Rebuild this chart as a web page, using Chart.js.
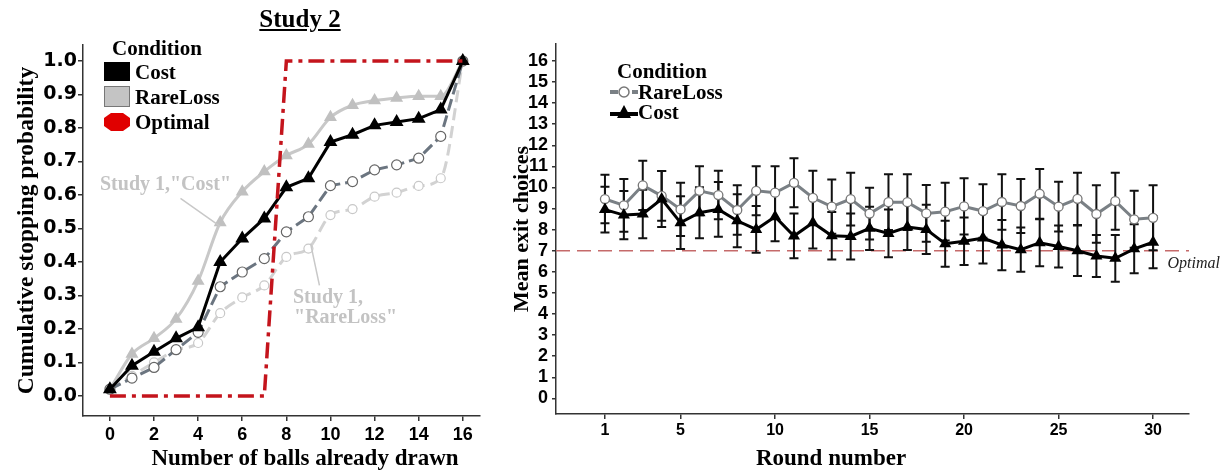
<!DOCTYPE html>
<html>
<head>
<meta charset="utf-8">
<script src="https://cdn.jsdelivr.net/npm/chart.js@4.4.1/dist/chart.umd.min.js"></script>
<style>
  body { margin: 0; background: #fff; }
  #wrap { position: relative; width: 1221px; height: 470px; overflow: hidden;
          font-family: "Liberation Serif", "Times New Roman", serif; }
  canvas { position: absolute; top: 0; }
  .t { position: absolute; font-weight: bold; white-space: nowrap; color: #000; line-height: 24px; }
  .g { position: absolute; }
</style>
</head>
<body>
<div id="wrap">
  <canvas id="left" width="490" height="470" style="left:0"></canvas>
  <canvas id="right" width="731" height="470" style="left:490px"></canvas>

  <div class="t" style="left:200px;top:7px;width:200px;text-align:center;font-size:25px;text-decoration:underline;">Study 2</div>

  <!-- left legend -->
  <div class="t" style="left:112px;top:36px;font-size:21px;">Condition</div>
  <div class="g" style="left:104px;top:62px;width:26px;height:19px;background:#000;"></div>
  <div class="t" style="left:135px;top:60px;font-size:21px;">Cost</div>
  <div class="g" style="left:104px;top:86px;width:24px;height:19px;background:#c4c4c4;border:1px solid #777;"></div>
  <div class="t" style="left:135px;top:85px;font-size:21px;">RareLoss</div>
  <svg class="g" style="left:103px;top:112px" width="28" height="20">
    <polygon points="8,1 20,1 27,6 27,14 20,19 8,19 1,14 1,6" fill="#e00000"/>
  </svg>
  <div class="t" style="left:135px;top:110px;font-size:21px;">Optimal</div>

  <!-- right legend -->
  <div class="t" style="left:617px;top:59px;font-size:21px;">Condition</div>
  <svg class="g" style="left:609px;top:84px" width="30" height="16">
    <line x1="1" y1="8" x2="29" y2="8" stroke="#7a8085" stroke-width="4" stroke-dasharray="8,3"/>
    <circle cx="15" cy="8" r="5" fill="#fff" stroke="#777" stroke-width="1.5"/>
  </svg>
  <div class="t" style="left:638px;top:80px;font-size:21px;">RareLoss</div>
  <svg class="g" style="left:609px;top:103px" width="30" height="18">
    <line x1="1" y1="11" x2="29" y2="11" stroke="#000" stroke-width="4"/>
    <polygon points="15,2 22,15 8,15" fill="#000"/>
  </svg>
  <div class="t" style="left:638px;top:100px;font-size:21px;">Cost</div>

  <!-- x axis titles -->
  <div class="t" style="left:105px;top:446px;width:400px;text-align:center;font-size:23px;">Number of balls already drawn</div>
  <div class="t" style="left:731px;top:446px;width:200px;text-align:center;font-size:23px;">Round number</div>
</div>

<script>
// ---- left panel: cumulative stopping probability ----
const ballsDrawn = [0, 1, 2, 3, 4, 5, 6, 7, 8, 9, 10, 11, 12, 13, 14, 15, 16];
const costStop = [0.02, 0.09, 0.132, 0.172, 0.205, 0.40, 0.47, 0.53, 0.623, 0.65, 0.758, 0.78, 0.808, 0.818, 0.828, 0.855, 1.0];
const rareLossStop = [0.02, 0.053, 0.085, 0.138, 0.19, 0.326, 0.37, 0.41, 0.49, 0.535, 0.628, 0.64, 0.675, 0.69, 0.71, 0.775, 1.0];
const study1CostStop = [0.02, 0.125, 0.172, 0.23, 0.343, 0.518, 0.61, 0.67, 0.718, 0.752, 0.832, 0.868, 0.882, 0.89, 0.895, 0.895, 1.0];
const study1RareLossStop = [0.02, 0.06, 0.1, 0.137, 0.158, 0.247, 0.294, 0.33, 0.415, 0.44, 0.54, 0.558, 0.595, 0.607, 0.627, 0.65, 1.0];
const optimalStop = [0, 0, 0, 0, 0, 0, 0, 0, 1, 1, 1, 1, 1, 1, 1, 1, 1];
const leftXTicks = [0, 2, 4, 6, 8, 10, 12, 14, 16];
const leftYTicks = [0, 0.1, 0.2, 0.3, 0.4, 0.5, 0.6, 0.7, 0.8, 0.9, 1.0];

// ---- right panel: mean exit choices per round ----
const rounds = [1, 2, 3, 4, 5, 6, 7, 8, 9, 10, 11, 12, 13, 14, 15, 16, 17, 18, 19, 20, 21, 22, 23, 24, 25, 26, 27, 28, 29, 30];
const rareLossMean = [9.45, 9.15, 10.1, 9.6, 8.96, 9.84, 9.64, 8.93, 9.84, 9.75, 10.22, 9.51, 9.09, 9.45, 8.76, 9.3, 9.3, 8.77, 8.85, 9.1, 8.88, 9.31, 9.12, 9.7, 9.09, 9.46, 8.74, 9.35, 8.49, 8.56];
const rareLossErr = [1.15, 1.25, 1.17, 1.18, 1.26, 1.16, 1.15, 1.17, 1.16, 1.25, 1.16, 1.28, 1.29, 1.25, 1.23, 1.32, 1.32, 1.34, 1.37, 1.33, 1.27, 1.31, 1.28, 1.18, 1.18, 1.24, 1.36, 1.35, 1.35, 1.54];
const costMean = [8.95, 8.69, 8.74, 9.45, 8.33, 8.8, 8.96, 8.42, 8.01, 8.61, 7.7, 8.33, 7.71, 7.68, 8.06, 7.82, 8.12, 8.01, 7.33, 7.45, 7.6, 7.27, 7.05, 7.38, 7.2, 7.0, 6.75, 6.64, 7.09, 7.4];
const costErr = [1.08, 1.14, 1.15, 1.33, 1.25, 1.21, 1.3, 1.26, 1.11, 1.16, 1.06, 1.22, 1.12, 1.09, 1.03, 1.13, 1.09, 1.17, 1.09, 1.13, 1.2, 1.19, 1.05, 1.11, 1.0, 1.2, 1.0, 1.11, 1.16, 1.23];
const optimalExit = 7;
const rightXTicks = [1, 5, 10, 15, 20, 25, 30];
const rightYTicks = [0, 1, 2, 3, 4, 5, 6, 7, 8, 9, 10, 11, 12, 13, 14, 15, 16];

const SERIF = '"Liberation Serif", "Times New Roman", serif';
const SANS = '"Liberation Sans", Arial, sans-serif';
const AXIS = '#333';

function pts(xs, ys) {
    return xs.map((x, i) => ({ x: x, y: ys[i] }));
}

function axis(extra) {
    return Object.assign({
        type: 'linear',
        grid: { display: true, drawOnChartArea: false, drawTicks: true, tickLength: 5, color: AXIS, lineWidth: 1.5 },
        border: { display: true, color: AXIS, width: 1.5 },
    }, extra);
}

// grey notes "Study 1" with pointer lines
const study1Notes = {
    id: 'study1Notes',
    afterDatasetsDraw(chart) {
        const { ctx, scales: { x, y } } = chart;
        ctx.save();
        ctx.fillStyle = '#c3c3c3';
        ctx.strokeStyle = '#c8c8c8';
        ctx.lineWidth = 1.5;
        ctx.font = 'bold 20px ' + SERIF;
        ctx.textBaseline = 'middle';
        ctx.textAlign = 'left';
        ctx.fillText('Study 1,"Cost"', x.getPixelForValue(-0.45), y.getPixelForValue(0.63));
        ctx.beginPath();
        ctx.moveTo(x.getPixelForValue(3.2), y.getPixelForValue(0.59));
        ctx.lineTo(x.getPixelForValue(5), y.getPixelForValue(study1CostStop[5]) + 4);
        ctx.stroke();

        ctx.fillText('Study 1,', x.getPixelForValue(8.3), y.getPixelForValue(0.293));
        ctx.fillText('"RareLoss"', x.getPixelForValue(8.35), y.getPixelForValue(0.233));
        ctx.beginPath();
        ctx.moveTo(x.getPixelForValue(9.1), y.getPixelForValue(study1RareLossStop[9]) - 5);
        ctx.lineTo(x.getPixelForValue(9.5), y.getPixelForValue(0.33));
        ctx.stroke();
        ctx.restore();
    }
};

new Chart(document.getElementById('left'), {
    type: 'line',
    data: {
        datasets: [
            {
                label: 'Optimal',
                data: pts(ballsDrawn, optimalStop),
                borderColor: '#c4141c',
                borderWidth: 3.5,
                borderDash: [16, 6, 4, 6],
                pointRadius: 0,
                tension: 0,
            },
            {
                label: 'Cost',
                data: pts(ballsDrawn, costStop),
                borderColor: '#000',
                borderWidth: 3,
                pointStyle: 'triangle',
                pointRadius: 5,
                pointBackgroundColor: '#000',
                pointBorderColor: '#000',
                tension: 0,
            },
            {
                label: 'RareLoss',
                data: pts(ballsDrawn, rareLossStop),
                borderColor: '#6b7580',
                borderWidth: 3,
                borderDash: [12, 5],
                pointStyle: 'circle',
                pointRadius: 5,
                pointBackgroundColor: '#fff',
                pointBorderColor: '#666',
                pointBorderWidth: 1.2,
                tension: 0,
            },
            {
                label: 'Study 1 Cost',
                data: pts(ballsDrawn, study1CostStop),
                borderColor: '#c8c8c8',
                borderWidth: 3,
                pointStyle: 'triangle',
                pointRadius: 4.5,
                pointBackgroundColor: '#c0c0c0',
                pointBorderColor: '#c0c0c0',
                cubicInterpolationMode: 'monotone',
            },
            {
                label: 'Study 1 RareLoss',
                data: pts(ballsDrawn, study1RareLossStop),
                borderColor: '#d2d2d2',
                borderWidth: 3,
                borderDash: [12, 6],
                pointStyle: 'circle',
                pointRadius: 4.5,
                pointBackgroundColor: '#fff',
                pointBorderColor: '#c8c8c8',
                pointBorderWidth: 1.2,
                cubicInterpolationMode: 'monotone',
            },
        ]
    },
    options: {
        responsive: false,
        animation: false,
        devicePixelRatio: 1,
        clip: false,
        layout: { padding: { left: 0, top: 45, right: 10, bottom: 0 } },
        plugins: { legend: { display: false }, tooltip: { enabled: false } },
        scales: {
            x: axis({
                min: -1.22, max: 16.78,
                afterBuildTicks: s => { s.ticks = leftXTicks.map(v => ({ value: v })); },
                afterFit: s => { s.height = 54; },
                ticks: { color: '#000', padding: 3, autoSkip: false, maxRotation: 0,
                         font: { family: SANS, size: 18, weight: 'bold' } },
            }),
            y: axis({
                min: -0.06, max: 1.048,
                afterBuildTicks: s => { s.ticks = leftYTicks.map(v => ({ value: v })); },
                afterFit: s => { s.width = 83; },
                ticks: { color: '#000', padding: 1, autoSkip: false,
                         callback: v => v.toFixed(1),
                         font: { family: '"DejaVu Sans", sans-serif', size: 19, weight: 'bold' } },
                title: { display: true, text: 'Cumulative stopping probability', color: '#000',
                         padding: { top: 13, bottom: 0 },
                         font: { family: SERIF, size: 23.5, weight: 'bold' } },
            }),
        }
    },
    plugins: [study1Notes]
});

// error bars, the optimal line and its label for the right panel
const roundExtras = {
    id: 'roundExtras',
    beforeDatasetsDraw(chart) {
        const { ctx, chartArea, scales: { x, y } } = chart;
        ctx.save();
        ctx.strokeStyle = '#c56a6a';
        ctx.lineWidth = 1.6;
        ctx.setLineDash([14, 7]);
        const oy = y.getPixelForValue(optimalExit);
        ctx.beginPath();
        ctx.moveTo(chartArea.left, oy);
        ctx.lineTo(chartArea.right, oy);
        ctx.stroke();
        ctx.setLineDash([]);

        ctx.strokeStyle = '#111';
        ctx.lineWidth = 2;
        const cap = 4.5;
        [[rareLossMean, rareLossErr], [costMean, costErr]].forEach(([m, e]) => {
            rounds.forEach((r, i) => {
                const px = x.getPixelForValue(r);
                const top = y.getPixelForValue(m[i] + e[i]);
                const bot = y.getPixelForValue(m[i] - e[i]);
                ctx.beginPath();
                ctx.moveTo(px, top); ctx.lineTo(px, bot);
                ctx.moveTo(px - cap, top); ctx.lineTo(px + cap, top);
                ctx.moveTo(px - cap, bot); ctx.lineTo(px + cap, bot);
                ctx.stroke();
            });
        });

        ctx.fillStyle = '#222';
        ctx.font = 'italic 16px ' + SERIF;
        ctx.textAlign = 'right';
        ctx.textBaseline = 'middle';
        ctx.fillText('Optimal', chartArea.right + 31, oy + 13);
        ctx.restore();
    }
};

new Chart(document.getElementById('right'), {
    type: 'line',
    data: {
        datasets: [
            {
                label: 'Cost',
                data: pts(rounds, costMean),
                borderColor: '#000',
                borderWidth: 3,
                pointStyle: 'triangle',
                pointRadius: 4,
                pointBackgroundColor: '#000',
                pointBorderColor: '#000',
                tension: 0,
            },
            {
                label: 'RareLoss',
                data: pts(rounds, rareLossMean),
                borderColor: '#7a8085',
                borderWidth: 3,
                pointStyle: 'circle',
                pointRadius: 4.5,
                pointBackgroundColor: '#fff',
                pointBorderColor: '#777',
                pointBorderWidth: 1.3,
                tension: 0,
            },
        ]
    },
    options: {
        responsive: false,
        animation: false,
        devicePixelRatio: 1,
        clip: false,
        layout: { padding: { left: 0, top: 44, right: 32, bottom: 0 } },
        plugins: { legend: { display: false }, tooltip: { enabled: false } },
        scales: {
            x: axis({
                min: -1.59, max: 31.9,
                afterBuildTicks: s => { s.ticks = rightXTicks.map(v => ({ value: v })); },
                afterFit: s => { s.height = 56; },
                ticks: { color: '#000', padding: 2, autoSkip: false, maxRotation: 0,
                         font: { family: SANS, size: 16, weight: 'bold' } },
            }),
            y: axis({
                min: -0.74, max: 16.8,
                grid: { display: true, drawOnChartArea: false, drawTicks: true, tickLength: 4, color: AXIS, lineWidth: 1.5 },
                afterBuildTicks: s => { s.ticks = rightYTicks.map(v => ({ value: v })); },
                afterFit: s => { s.width = 66; },
                ticks: { color: '#000', padding: 4, autoSkip: false,
                         font: { family: SANS, size: 18, weight: 'bold' } },
                title: { display: true, text: 'Mean exit choices', color: '#000',
                         padding: { top: 19, bottom: 0 },
                         font: { family: SERIF, size: 22, weight: 'bold' } },
            }),
        }
    },
    plugins: [roundExtras]
});
</script>
</body>
</html>
